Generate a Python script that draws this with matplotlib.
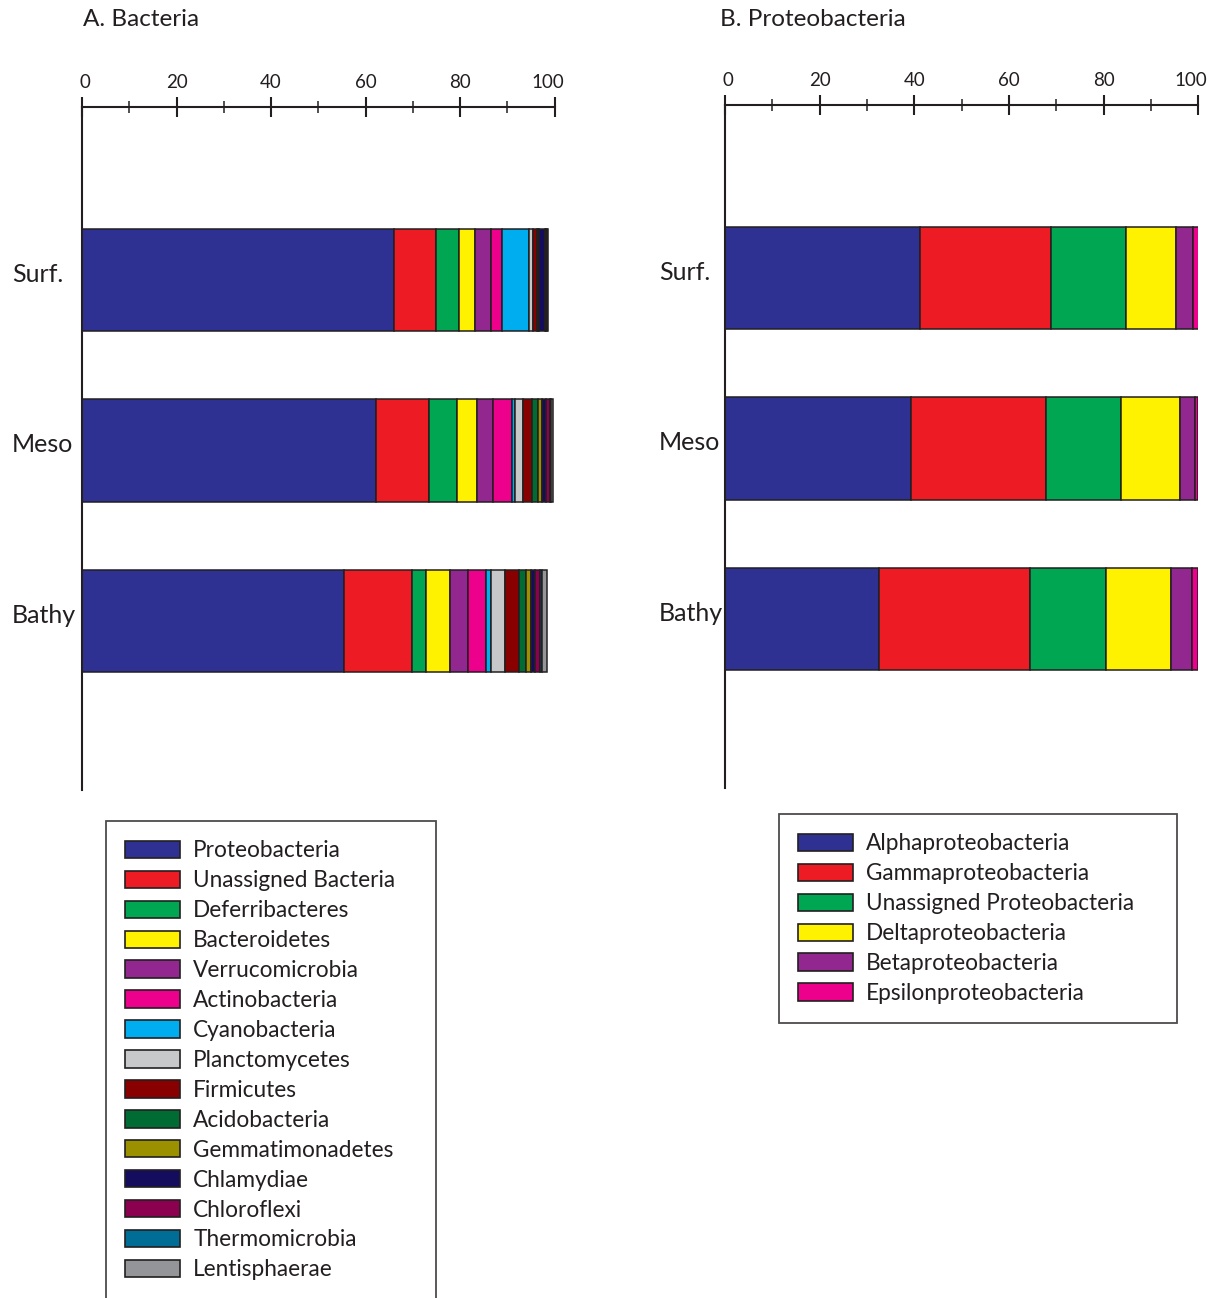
import matplotlib
matplotlib.use("Agg")
import matplotlib.pyplot as plt
import matplotlib.transforms as mtransforms
from matplotlib.patches import Patch

plt.rcParams['font.family'] = ['Lato', 'DejaVu Sans']

samples = ["Surf.", "Meso", "Bathy"]

bacteria_groups = ["Proteobacteria", "Unassigned Bacteria", "Deferribacteres", "Bacteroidetes",
                   "Verrucomicrobia", "Actinobacteria", "Cyanobacteria", "Planctomycetes",
                   "Firmicutes", "Acidobacteria", "Gemmatimonadetes", "Chlamydiae",
                   "Chloroflexi", "Thermomicrobia", "Lentisphaerae"]
bacteria_colors = ["#2E3192", "#ED1C24", "#00A651", "#FFF200", "#92278F", "#EC008C", "#00AEEF",
                   "#C7C8CA", "#890000", "#006B33", "#9A9000", "#140C5C", "#8C0050",
                   "#006D96", "#939598"]
surf_bacteria = [66.0, 8.8, 4.9, 3.4, 3.5, 2.2, 5.7, 1.0, 0.7, 0.3, 0.2, 1.2, 0.3, 0.1, 0.2]
meso_bacteria = [62.2, 11.2, 5.9, 4.3, 3.3, 4.0, 0.8, 1.5, 2.0, 1.3, 0.9, 0.8, 0.8, 0.3, 0.3]
bathy_bacteria = [55.4, 14.4, 3.0, 5.1, 3.7, 3.8, 1.1, 3.0, 3.0, 1.4, 1.1, 0.8, 1.1, 0.5, 0.9]

proteo_groups = ["Alphaproteobacteria", "Gammaproteobacteria", "Unassigned Proteobacteria",
                 "Deltaproteobacteria", "Betaproteobacteria", "Epsilonproteobacteria"]
proteo_colors = ["#2E3192", "#ED1C24", "#00A651", "#FFF200", "#92278F", "#EC008C"]
surf_proteo = [41.1, 27.8, 15.8, 10.5, 3.6, 1.3]
meso_proteo = [39.3, 28.5, 15.8, 12.6, 3.0, 0.7]
bathy_proteo = [32.5, 32.0, 16.1, 13.6, 4.5, 1.3]

edge = "#231F20"
W, H = 1212, 1298
fig = plt.figure(figsize=(W / 100, H / 100), dpi=100)


def draw_panel(rect, rows, groups, colors, title, title_x, label_pad):
    ax = fig.add_axes(rect)
    for i, vals in enumerate(rows):
        left = 0
        for v, c in zip(vals, colors):
            ax.barh(i, v, left=left, height=0.6, color=c, edgecolor=edge, linewidth=1.1)
            left += v
    ax.set_xlim(0, 100)
    ax.set_ylim(2.99, -1.015)
    for s in ["right", "bottom"]:
        ax.spines[s].set_visible(False)
    for s in ["top", "left"]:
        ax.spines[s].set_linewidth(1.5)
        ax.spines[s].set_color(edge)
    ax.xaxis.tick_top()
    ax.set_xticks(range(0, 101, 20))
    ax.set_xticks(range(10, 100, 20), minor=True)
    ax.tick_params(axis="x", which="major", direction="inout", length=15, width=1.5,
                   color=edge, labelsize=13.5, pad=4, labelcolor="#231F20")
    ax.tick_params(axis="x", which="minor", direction="inout", length=9, width=1.1, color=edge)
    # nudge the end labels like in the original
    xlabels = ax.get_xticklabels()
    xlabels[0].set_transform(xlabels[0].get_transform() +
                             mtransforms.ScaledTranslation(0.03, 0, fig.dpi_scale_trans))
    xlabels[-1].set_transform(xlabels[-1].get_transform() +
                              mtransforms.ScaledTranslation(-0.07, 0, fig.dpi_scale_trans))
    ax.set_yticks(range(len(samples)))
    ax.set_yticklabels(samples, fontsize=18, color="#231F20", ha="left")
    ax.tick_params(axis="y", length=0, pad=label_pad)
    for t in ax.get_yticklabels():
        t.set_transform(t.get_transform() +
                        mtransforms.ScaledTranslation(0, 0.08, fig.dpi_scale_trans))
    fig.text(title_x / W, 1 - 19 / H, title, fontsize=17.5, color="#231F20", va="center", ha="left")
    return ax


draw_panel([82 / W, 1 - 790 / H, 472.7 / W, 683 / H],
           [surf_bacteria, meso_bacteria, bathy_bacteria],
           bacteria_groups, bacteria_colors, "A. Bacteria", 83, 50.5)
draw_panel([725 / W, 1 - 788 / H, 473.3 / W, 683 / H],
           [surf_proteo, meso_proteo, bathy_proteo],
           proteo_groups, proteo_colors, "B. Proteobacteria", 720, 47.5)


def add_legend(groups, colors, x0, top, width):
    handles = [Patch(facecolor=c, edgecolor=edge, linewidth=1.2) for c in colors]
    leg = fig.legend(handles, groups, loc="upper left",
                     bbox_to_anchor=(x0 / W, 0, width / W, 1 - top / H),
                     mode="expand", borderaxespad=0, fontsize=16.3, frameon=True,
                     fancybox=False, handlelength=2.43, handleheight=0.8,
                     handletextpad=0.57, labelspacing=0.395, borderpad=0.85)
    leg.get_frame().set_edgecolor(edge)
    leg.get_frame().set_linewidth(1.3)
    for t in leg.get_texts():
        t.set_color("#231F20")
    return leg


add_legend(bacteria_groups, bacteria_colors, 106, 821, 330)
add_legend(proteo_groups, proteo_colors, 779, 814, 398)

fig.savefig("out.png", dpi=100)
